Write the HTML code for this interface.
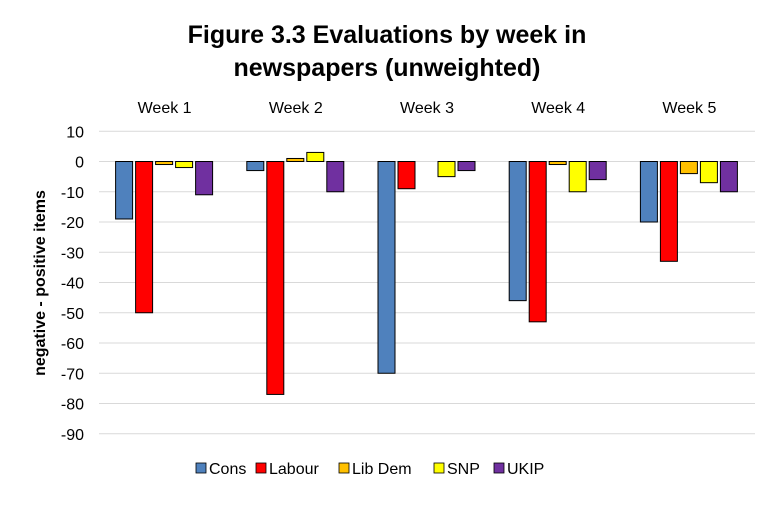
<!DOCTYPE html>
<html><head><meta charset="utf-8"><style>
body{margin:0;background:#fff;font-family:"Liberation Sans",Arial,sans-serif}
</style></head><body>
<svg width="774" height="502" xmlns="http://www.w3.org/2000/svg" style="font-family:'Liberation Sans',Arial,sans-serif">
<rect width="774" height="502" fill="#fff"/>
<text x="387" y="43" text-anchor="middle" font-size="25" font-weight="bold">Figure 3.3 Evaluations by week in</text>
<text x="387" y="76" text-anchor="middle" font-size="25" font-weight="bold">newspapers (unweighted)</text>
<text transform="translate(45,283) rotate(-90)" text-anchor="middle" font-size="16" font-weight="bold">negative - positive items</text>
<g id="grid"></g><g id="yt"></g><g id="wk"></g><g id="bars"></g><g id="legend"></g>
</svg>
<script>
const weeks=["Week 1","Week 2","Week 3","Week 4","Week 5"];
const series=["Cons","Labour","Lib Dem","SNP","UKIP"];
const colors=["#4f81bd","#ff0000","#ffc000","#ffff00","#7030a0"];
const cons=[-19,-3,-70,-46,-20];
const labour=[-50,-77,-9,-53,-33];
const libdem=[-1,1,0,-1,-4];
const snp=[-2,3,-5,-10,-7];
const ukip=[-11,-10,-3,-6,-10];
const yTicks=[10,0,-10,-20,-30,-40,-50,-60,-70,-80,-90];
const data=[cons,labour,libdem,snp,ukip];
const NS="http://www.w3.org/2000/svg";
const y=v=>161.5-(v*3.025);
const x0=99,gw=131.2;
function mk(t,a,p){const e=document.createElementNS(NS,t);for(const k in a)e.setAttribute(k,a[k]);document.getElementById(p).appendChild(e);return e;}
yTicks.forEach(t=>{
 const l=mk("line",{x1:x0,x2:755,y1:y(t),y2:y(t),stroke:"#d9d9d9","stroke-width":1},"grid");
 
 
 const tx=mk("text",{x:84,y:y(t)+6,"text-anchor":"end","font-size":16},"yt");tx.textContent=t;
 
 
});
weeks.forEach((w,i)=>{
 const cx=x0+gw*(i+0.5);
 const tx=mk("text",{x:cx,y:113,"text-anchor":"middle","font-size":16},"wk");tx.textContent=w;
 
 
 data.forEach((s,j)=>{
  const v=s[i];if(v===0)return;
  const bx=cx-49+j*20;
  const r=mk("rect",{x:bx,y:Math.min(y(v),y(0)),width:17,height:Math.abs(y(v)-y(0)),fill:colors[j],stroke:"#000","stroke-width":1},"bars");
  
  
 });
});
const lx=[196,256,339,434,494];
series.forEach((s,j)=>{
 const r=mk("rect",{x:lx[j],y:463,width:10,height:10,fill:colors[j],stroke:"#000","stroke-width":0.8},"legend");
 
 
 const t=mk("text",{x:lx[j]+13,y:474,"font-size":16},"legend");t.textContent=s;
 
 
});
</script>
</body></html>
